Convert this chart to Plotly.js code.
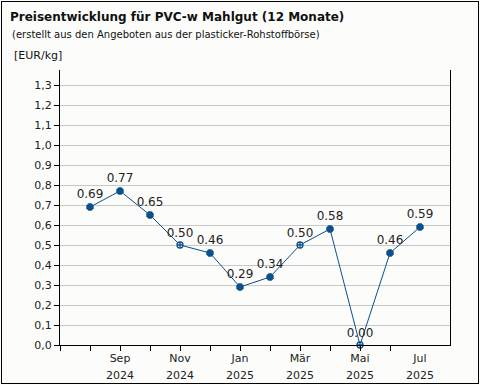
<!DOCTYPE html>
<html><head><meta charset="utf-8">
<script src="https://cdn.plot.ly/plotly-3.0.1.min.js"></script>
<style>
html,body{margin:0;padding:0;background:#fcfdfb;}
#wrap{position:relative;width:480px;height:385px;}
#chart{width:480px;height:385px;}
#frame{position:absolute;left:1px;top:1px;width:478px;height:383px;box-sizing:border-box;border:1px solid #000;pointer-events:none;}
</style></head>
<body><div id="wrap"><div id="chart"></div><div id="frame"></div></div>
<script>
const months = ['Aug 2024','Sep 2024','Okt 2024','Nov 2024','Dez 2024','Jan 2025','Feb 2025','Mär 2025','Apr 2025','Mai 2025','Jun 2025','Jul 2025'];
const prices = [0.69, 0.77, 0.65, 0.50, 0.46, 0.29, 0.34, 0.50, 0.58, 0.00, 0.46, 0.59];
const hollow = [false,false,false,true,false,false,false,true,false,true,false,false];
const tickMonthLabels = ['Sep','Nov','Jan','Mär','Mai','Jul'];
const tickYearLabels = ['2024','2024','2025','2025','2025','2025'];
const tickLabelIdx = [1,3,5,7,9,11];
const yTicks = [0,0.1,0.2,0.3,0.4,0.5,0.6,0.7,0.8,0.9,1.0,1.1,1.2,1.3];

const blue = '#0b4f8c';
const idx = months.map((m,i)=>i);
const font = 'DejaVu Sans, Verdana, sans-serif';

const trace = {
  x: idx, y: prices, type:'scatter', mode:'lines+markers+text',
  text: prices.map(v=>v.toFixed(2)), textposition:'top center',
  textfont:{family:font,size:12,color:'#222'},
  line:{color:blue,width:1},
  marker:{opacity:1, color:hollow.map(h=>h?'#fcfdfb':blue), size:hollow.map(h=>h?6:8),
    symbol:hollow.map(h=>h?'circle-cross':'octagon'), line:{color:blue,width:hollow.map(h=>h?1.3:0)}},
  cliponaxis:false, hoverinfo:'none'
};
const dummyX2 = {x:[0], y:[0], xaxis:'x2', type:'scatter', mode:'markers', marker:{opacity:0}, hoverinfo:'none', showlegend:false};
const dummyX3 = {x:[0], y:[0], xaxis:'x3', type:'scatter', mode:'markers', marker:{opacity:0}, hoverinfo:'none', showlegend:false};
const dummyY2 = {x:[0], y:[0], yaxis:'y2', type:'scatter', mode:'markers', marker:{opacity:0}, hoverinfo:'none', showlegend:false};

const tickPos = [];
for (let i=-1;i<=10;i++) tickPos.push(i);

const labelAxis = (labels, standoff) => ({range:[-1,12], overlaying:'x', side:'bottom', tickmode:'array',
  tickvals:tickLabelIdx, ticktext:labels, ticks:'', ticklabelstandoff:standoff,
  showline:false, showgrid:false, zeroline:false, tickfont:{family:font,size:11,color:'#222'}});

const layout = {
  width:480, height:385,
  paper_bgcolor:'#fcfdfb', plot_bgcolor:'#fcfdfb',
  margin:{l:60,r:30,t:70,b:40},
  showlegend:false,
  separators:',.',
  font:{family:font,size:11,color:'#222'},
  title:{text:'<b>Preisentwicklung für PVC-w Mahlgut (12 Monate)</b>', xref:'container', yref:'container',
    x:10/480, xanchor:'left', y:1-17/385, yanchor:'middle', font:{family:font,size:12,color:'#111'}},
  xaxis:{range:[-1,12], tickmode:'array', tickvals:tickPos, ticktext:tickPos.map(()=>''),
    ticks:'outside', ticklen:5, tickcolor:'#000', showline:true, linecolor:'#000', linewidth:1,
    showgrid:false, zeroline:false, fixedrange:true},
  xaxis2:labelAxis(tickMonthLabels, 5),
  xaxis3:labelAxis(tickYearLabels, 22),
  yaxis:{range:[0,1.375], tickmode:'array', tickvals:yTicks, tickformat:'.1f',
    ticks:'outside', ticklen:5, tickcolor:'#000', showline:true, linecolor:'#000', linewidth:1,
    mirror:false, showgrid:true, gridcolor:'#c8c8c8', gridwidth:1, zeroline:false,
    tickfont:{family:font,size:11,color:'#222'}},
  yaxis2:{range:[0,1.375], overlaying:'y', side:'right', showline:true, linecolor:'#000', linewidth:1, showticklabels:false, ticks:'', showgrid:false, zeroline:false},
  annotations:[
    {text:'(erstellt aus den Angeboten aus der plasticker-Rohstoffbörse)', xref:'paper', yref:'paper',
      x:(10-60)/390, y:1+(70-34)/275, xanchor:'left', yanchor:'middle', showarrow:false, font:{family:font,size:10,color:'#111'}},
    {text:'[EUR/kg]', xref:'paper', yref:'paper', x:(12-60)/390, y:1+(70-56)/275, xanchor:'left', yanchor:'middle', showarrow:false, font:{family:font,size:11,color:'#111'}}
  ]
};
Plotly.newPlot('chart',[dummyX2,dummyX3,dummyY2,trace],layout,{staticPlot:true});
</script></body></html>
